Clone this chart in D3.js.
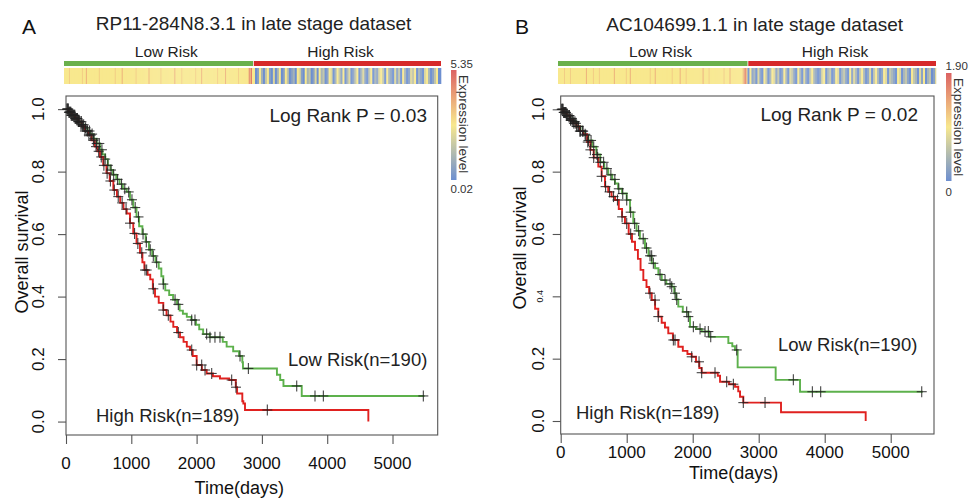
<!DOCTYPE html>
<html><head><meta charset="utf-8">
<script src="https://cdn.jsdelivr.net/npm/d3@7/dist/d3.min.js"></script>
<style>
html,body{margin:0;padding:0;background:#fff;}
svg{display:block;font-family:"Liberation Sans",Arial,Helvetica,sans-serif;}
</style></head>
<body><svg id="chart" width="975" height="498"></svg>
<script>
// ---------------- DATA ----------------
const panelLetters = ["A", "B"];
const titles = ["RP11-284N8.3.1 in late stage dataset", "AC104699.1.1 in late stage dataset"];
const pValues = ["Log Rank P = 0.03", "Log Rank P = 0.02"];
const groupLabels = ["Low Risk", "High Risk"];
const groupN = [190, 189];
const exprRangeA = [0.02, 5.35];
const exprRangeB = [0, 1.90];
const exprLabelsA = ["5.35", "0.02"];
const exprLabelsB = ["1.90", "0"];
const xTicks = [0, 1000, 2000, 3000, 4000, 5000];
const yTicks = [0, 0.2, 0.4, 0.6, 0.8, 1.0];

// expression levels per sample (0 = lowest ... 5 = middle ... 9 = highest), samples sorted by risk score
const exprLowA = ["5555565555","5555555565","5575555555","5555565555","5555555555","5655555575","5555555555","5565555555","5555575555","5555555655",
                  "5555555555","5755555565","5555555555","5565555575","5555555555","5555655555","5575555555","5555565555","5555568795"];
const exprHighA = ["5500115522","0033551100","4400225500","1155330011","2200554411","0055223300","1144005522","3300115544","0022553311","5500224400",
                   "1133550022","4411003355","0022114455","3300552211","0044113300","5522001144","3355002211","0044552200","113355000"];
const exprLowB = ["5555556555","5565555555","5555555575","5555565555","5655555555","5555557555","5555555565","5575555555","5555555555","5565555755",
                  "5555555555","5555655555","5575555565","5555555555","5555575555","5655555555","5555556555","5575555555","5555567895"];
const exprHighB = ["0055112200","4411005533","0022554411","3300115522","0044331100","5522004411","0033552211","0011445500","2233001155","4400223311",
                   "0055114422","0033552200","1144003355","2200115544","0033221100","5544002233","1100553322","0044115500","223300114"];

// Kaplan-Meier step data: [time (days), survival after the drop]
const kmLowA_t = [0,40,80,130,180,230,280,330,370,420,470,520,560,600,640,680,720,770,820,870,930,980,1030,1080,1120,1170,1220,1270,1320,1370,1420,1460,1490,1520,1580,1640,1700,1740,1790,1850,1920,1990,2040,2100,2200,2400,2460,2560,2650,2700,2710,3230,3280,3330,3610];
const kmLowA_s = [1.0,0.99,0.98,0.97,0.96,0.95,0.94,0.93,0.92,0.905,0.89,0.87,0.855,0.84,0.82,0.805,0.79,0.775,0.76,0.745,0.735,0.71,0.685,0.655,0.625,0.60,0.575,0.55,0.53,0.51,0.49,0.465,0.44,0.42,0.405,0.39,0.375,0.355,0.345,0.335,0.325,0.31,0.295,0.28,0.27,0.255,0.24,0.225,0.21,0.19,0.17,0.15,0.133,0.114,0.082];
const kmLowA_end = 5490;
const kmHighA_t = [0,40,90,140,190,240,290,340,390,440,480,520,570,620,670,725,780,830,880,930,980,1030,1080,1133,1170,1200,1250,1290,1330,1363,1420,1490,1540,1600,1643,1700,1746,1800,1850,1899,1940,2001,2080,2154,2250,2358,2500,2600,2620,2700,2716,2741,4630];
const kmHighA_s = [1.0,0.99,0.98,0.97,0.96,0.945,0.93,0.917,0.9,0.88,0.865,0.847,0.82,0.795,0.77,0.741,0.72,0.70,0.68,0.666,0.635,0.602,0.57,0.54,0.51,0.485,0.47,0.455,0.425,0.40,0.38,0.357,0.34,0.32,0.303,0.285,0.27,0.255,0.24,0.229,0.21,0.181,0.165,0.154,0.145,0.138,0.133,0.11,0.09,0.065,0.058,0.037,0.0];
const kmHighA_end = 4630;
const kmLowB_t = [0,40,90,140,190,240,300,368,420,480,540,600,660,720,780,823,870,930,1000,1050,1100,1150,1200,1277,1330,1379,1430,1480,1530,1600,1682,1720,1750,1782,1850,1934,1959,2050,2136,2250,2540,2600,2641,2681,3257,3626];
const kmLowB_s = [1.0,0.99,0.98,0.97,0.96,0.945,0.93,0.917,0.9,0.88,0.855,0.83,0.81,0.79,0.775,0.762,0.745,0.73,0.709,0.67,0.634,0.61,0.585,0.555,0.53,0.506,0.49,0.47,0.452,0.44,0.431,0.41,0.39,0.367,0.35,0.335,0.302,0.295,0.287,0.27,0.25,0.24,0.228,0.172,0.132,0.094];
const kmLowB_end = 5485;
const kmHighB_t = [0,40,90,140,190,240,290,340,400,450,500,570,620,671,720,770,823,880,930,974,1030,1080,1126,1170,1210,1252,1300,1340,1379,1430,1479,1530,1580,1630,1700,1782,1850,1920,1984,2050,2100,2136,2380,2414,2550,2641,2690,2717,2767,3338,4621];
const kmHighB_s = [1.0,0.99,0.98,0.965,0.955,0.945,0.93,0.92,0.895,0.87,0.845,0.816,0.785,0.752,0.735,0.72,0.709,0.68,0.655,0.634,0.60,0.575,0.549,0.52,0.485,0.452,0.43,0.41,0.388,0.36,0.335,0.315,0.30,0.281,0.26,0.238,0.225,0.215,0.206,0.19,0.17,0.155,0.145,0.126,0.118,0.11,0.095,0.078,0.059,0.028,0.0];
const kmHighB_end = 4621;

// censoring times (days)
const censLowA = [20,35,50,65,80,95,110,125,140,160,175,190,210,230,250,270,300,330,360,400,430,470,510,550,600,640,690,730,790,850,900,960,1010,1060,1110,1180,1230,1290,1337,1388,1490,1670,1720,1925,1975,2154,2205,2281,2358,2665,2793,3533,3813,3941,5472];
const censHighA = [15,30,45,60,75,90,105,120,135,150,170,190,210,235,260,290,320,350,380,420,460,500,540,580,630,680,740,800,860,920,980,1050,1100,1160,1210,1235,1337,1490,1567,1720,1925,2001,2078,2129,2231,2537,2603,3083];
const censLowB = [20,35,50,65,80,95,110,130,150,170,190,215,240,270,300,340,380,420,460,500,550,600,650,700,760,820,880,940,1000,1060,1120,1180,1250,1300,1353,1378,1404,1505,1581,1657,1682,1732,1758,1909,1934,2010,2111,2187,2237,2273,2667,3525,3813,3939,5470];
const censHighB = [15,30,45,60,75,90,110,130,150,175,200,230,260,290,330,370,410,450,500,560,620,680,740,800,860,930,1000,1060,1353,1429,1479,1707,1732,1985,2096,2136,2338,2515,2616,2767,3096];

// ---------------- DRAW ----------------
const svg = d3.select("#chart");
const GREEN = "#5db14c", RED = "#e0211f", BAR_GREEN = "#6ab04c", BAR_RED = "#d62a2a";
const C_LOW = "#6d8fd0", C_MID = "#f8e88e", C_HIGH = "#dc6262";

const defs = svg.append("defs");
const grad = defs.append("linearGradient").attr("id", "exprGrad")
  .attr("x1", 0).attr("y1", 1).attr("x2", 0).attr("y2", 0);
grad.append("stop").attr("offset", "0%").attr("stop-color", C_LOW);
grad.append("stop").attr("offset", "50%").attr("stop-color", C_MID);
grad.append("stop").attr("offset", "100%").attr("stop-color", C_HIGH);

const panels = [
  { letter: panelLetters[0], title: titles[0], p: pValues[0], range: exprRangeA, exprLabels: exprLabelsA,
    low: exprLowA, high: exprHighA,
    kmLow: [kmLowA_t, kmLowA_s, kmLowA_end], kmHigh: [kmHighA_t, kmHighA_s, kmHighA_end],
    censLow: censLowA, censHigh: censHighA,
    L: { letterX: 22, letterY: 34, titleX: 253.5, titleY: 30, stripX0: 64, stripX1: 441,
         grpLblX: [166.3, 340.5], cbX: 451, cbY0: 70, cbY1: 180, cbTopY: 68, cbBotY: 193, cbLblX: 459,
         boxX0: 66, boxX1: 437.7, boxY0: 96, boxY1: 435, xMax: 5692, yMin: -0.043, yMax: 1.042,
         xLblY: 469, xTitleY: 494, yLblX: 44, yTitleX: 28, yTitleY: 252,
         pX: 427, pY: 122, lowLblX: 288, lowLblY: 366, highLblX: 96, highLblY: 422, smallTick: false } },
  { letter: panelLetters[1], title: titles[1], p: pValues[1], range: exprRangeB, exprLabels: exprLabelsB,
    low: exprLowB, high: exprHighB,
    kmLow: [kmLowB_t, kmLowB_s, kmLowB_end], kmHigh: [kmHighB_t, kmHighB_s, kmHighB_end],
    censLow: censLowB, censHigh: censHighB,
    L: { letterX: 515, letterY: 34, titleX: 754.7, titleY: 31, stripX0: 558, stripX1: 936,
         grpLblX: [660.5, 835], cbX: 946, cbY0: 73, cbY1: 181, cbTopY: 70, cbBotY: 196, cbLblX: 954,
         boxX0: 560.7, boxX1: 934, boxY0: 96, boxY1: 434, xMax: 5656, yMin: -0.0417, yMax: 1.0427,
         xLblY: 458, xTitleY: 479, yLblX: 544, yTitleX: 526, yTitleY: 248,
         pX: 918, pY: 121, lowLblX: 778, lowLblY: 351, highLblX: 576, highLblY: 419, smallTick: true } }
];

function stepAt(ts, ss, t) {
  let v = ss[0];
  for (let i = 0; i < ts.length; i++) { if (ts[i] <= t) v = ss[i]; else break; }
  return v;
}

panels.forEach(P => {
  const L = P.L;
  const g = svg.append("g");

  // panel letter and title
  g.append("text").attr("x", L.letterX).attr("y", L.letterY).attr("font-size", 21)
    .attr("fill", "#111").text(P.letter);
  g.append("text").attr("x", L.titleX).attr("y", L.titleY).attr("font-size", 19)
    .attr("text-anchor", "middle").attr("fill", "#222").text(P.title);

  // group bars + labels
  const lowLv = P.low.join("").split("").map(Number);
  const highLv = P.high.join("").split("").map(Number);
  const levels = lowLv.concat(highLv);
  const nLow = lowLv.length, n = levels.length;
  const xs = d3.scaleLinear().domain([0, n]).range([L.stripX0, L.stripX1]);
  g.append("rect").attr("x", xs(0)).attr("y", 61).attr("width", xs(nLow) - xs(0)).attr("height", 5).attr("fill", BAR_GREEN);
  g.append("rect").attr("x", xs(nLow) + 0.8).attr("y", 61).attr("width", xs(n) - xs(nLow) - 0.8).attr("height", 5).attr("fill", BAR_RED);
  groupLabels.forEach((lbl, i) => {
    g.append("text").attr("x", L.grpLblX[i]).attr("y", 57).attr("font-size", 15.5)
      .attr("text-anchor", "middle").attr("fill", "#222").text(lbl);
  });

  // expression heatmap strip
  const vals = levels.map(l => P.range[0] + l / 10 * (P.range[1] - P.range[0]));
  const mid = (P.range[0] + P.range[1]) / 2;
  const color = d3.scaleLinear().domain([P.range[0], mid, P.range[1]]).range([C_LOW, C_MID, C_HIGH]).interpolate(d3.interpolateRgb);
  g.append("g").selectAll("rect").data(vals).join("rect")
    .attr("x", (d, i) => xs(i)).attr("y", 68).attr("width", (d, i) => xs(i + 1) - xs(i) + 0.3).attr("height", 16)
    .attr("fill", d => color(d));

  // colour legend
  g.append("rect").attr("x", L.cbX).attr("y", L.cbY0).attr("width", 5.5).attr("height", L.cbY1 - L.cbY0)
    .attr("fill", "url(#exprGrad)");
  g.append("text").attr("x", L.cbX - 0.5).attr("y", L.cbTopY).attr("font-size", 11.5).attr("fill", "#333").text(P.exprLabels[0]);
  g.append("text").attr("x", L.cbX - 0.5).attr("y", L.cbBotY).attr("font-size", 11.5).attr("fill", "#333").text(P.exprLabels[1]);
  g.append("text").attr("transform", `translate(${L.cbLblX},${L.cbY0 + 5}) rotate(90)`)
    .attr("font-size", 13.5).attr("fill", "#333").text("Expression level");

  // KM plot scales
  const x = d3.scaleLinear().domain([0, L.xMax]).range([L.boxX0, L.boxX1]);
  const y = d3.scaleLinear().domain([L.yMin, L.yMax]).range([L.boxY1, L.boxY0]);

  // box
  g.append("rect").attr("x", L.boxX0).attr("y", L.boxY0).attr("width", L.boxX1 - L.boxX0).attr("height", L.boxY1 - L.boxY0)
    .attr("fill", "none").attr("stroke", "#555").attr("stroke-width", 1.1);

  // x axis
  const xAxis = g.append("g").attr("transform", `translate(0,${L.boxY1})`)
    .call(d3.axisBottom(x).tickValues(xTicks).tickSize(9).tickPadding(2).tickFormat(d3.format("d")));
  xAxis.select(".domain").remove();
  xAxis.selectAll(".tick line").attr("stroke", "#555").attr("stroke-width", 1.1);
  xAxis.selectAll(".tick text").remove();
  xTicks.forEach(t => {
    g.append("text").attr("x", x(t)).attr("y", L.xLblY).attr("font-size", 17).attr("text-anchor", "middle")
      .attr("fill", "#111").text(t);
  });
  g.append("text").attr("x", (x(0) + x(5000)) / 2 + (L.smallTick ? 8 : 10)).attr("y", L.xTitleY).attr("font-size", 18)
    .attr("text-anchor", "middle").attr("fill", "#111").text("Time(days)");

  // y axis
  const yAxis = g.append("g").attr("transform", `translate(${L.boxX0},0)`)
    .call(d3.axisLeft(y).tickValues(yTicks).tickSize(8));
  yAxis.select(".domain").remove();
  yAxis.selectAll(".tick line").attr("stroke", "#555").attr("stroke-width", 1.1);
  yAxis.selectAll(".tick text").remove();
  yTicks.forEach(v => {
    const small = L.smallTick && Math.abs(v - 0.4) < 1e-9;
    g.append("text").attr("transform", `translate(${L.yLblX},${y(v)}) rotate(-90)`)
      .attr("font-size", small ? 9 : 17).attr("text-anchor", "middle").attr("fill", "#111")
      .attr("dy", small ? "-0.1em" : 0).text(v.toFixed(1));
  });
  g.append("text").attr("transform", `translate(${L.yTitleX},${L.yTitleY}) rotate(-90)`)
    .attr("font-size", 18).attr("text-anchor", "middle").attr("fill", "#111").text("Overall survival");

  // curves
  const line = d3.line().x(d => x(d[0])).y(d => y(d[1])).curve(d3.curveStepAfter);
  const curves = [
    { km: P.kmLow, cens: P.censLow, col: GREEN },
    { km: P.kmHigh, cens: P.censHigh, col: RED }
  ];
  curves.forEach(c => {
    const [ts, ss, end] = c.km;
    const pts = ts.map((t, i) => [t, ss[i]]);
    pts.push([end, ss[ss.length - 1]]);
    g.append("path").attr("d", line(pts)).attr("fill", "none").attr("stroke", c.col).attr("stroke-width", 1.9);
  });
  curves.forEach(c => {
    const [ts, ss] = c.km;
    const cg = g.append("g").attr("stroke", "#222").attr("stroke-width", 1.1).attr("stroke-opacity", 0.85);
    c.cens.forEach(t => {
      const cx = x(t), cy = y(stepAt(ts, ss, t));
      cg.append("line").attr("x1", cx - 5).attr("x2", cx + 5).attr("y1", cy).attr("y2", cy);
      cg.append("line").attr("x1", cx).attr("x2", cx).attr("y1", cy - 5.5).attr("y2", cy + 5.5);
    });
  });

  // annotations
  g.append("text").attr("x", L.pX).attr("y", L.pY).attr("font-size", 19).attr("text-anchor", "end")
    .attr("fill", "#222").text(P.p);
  g.append("text").attr("x", L.lowLblX).attr("y", L.lowLblY).attr("font-size", 18.5)
    .attr("fill", "#222").text(`${groupLabels[0]}(n=${groupN[0]})`);
  g.append("text").attr("x", L.highLblX).attr("y", L.highLblY).attr("font-size", 18.5)
    .attr("fill", "#222").text(`${groupLabels[1]}(n=${groupN[1]})`);
});
</script>
</body></html>
